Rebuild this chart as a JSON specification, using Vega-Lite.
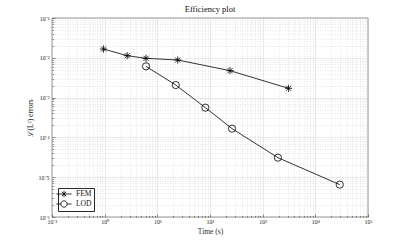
{
  "$schema": "https://vega.github.io/schema/vega-lite/v6.json",
  "width": 316,
  "height": 199,
  "autosize": {"type": "none"},
  "padding": {"left": 52, "top": 18, "right": 39, "bottom": 27},
  "background": "white",
  "config": {
    "font": "Liberation Serif",
    "view": {"stroke": "#262626", "strokeWidth": 0.6},
    "axis": {
      "labelFont": "Liberation Serif",
      "titleFont": "Liberation Serif",
      "labelColor": "#262626",
      "titleColor": "#262626",
      "titleFontWeight": "normal",
      "domain": false,
      "tickColor": "#262626",
      "tickWidth": 0.5,
      "gridWidth": 0.5
    }
  },
  "title": {"text": "Efficiency plot", "fontSize": 8.5, "fontWeight": "normal", "color": "#111111", "font": "Liberation Serif", "offset": 2},
  "data": {
    "values": [
      {"series": "FEM", "time": 0.95, "error": 0.0166},
      {"series": "FEM", "time": 2.68, "error": 0.0113},
      {"series": "FEM", "time": 6.1, "error": 0.0097},
      {"series": "FEM", "time": 24.4, "error": 0.0088},
      {"series": "FEM", "time": 240, "error": 0.00475},
      {"series": "FEM", "time": 3100, "error": 0.00171},
      {"series": "LOD", "time": 6.1, "error": 0.0061},
      {"series": "LOD", "time": 22.4, "error": 0.00207},
      {"series": "LOD", "time": 81.7, "error": 0.000559},
      {"series": "LOD", "time": 262, "error": 0.000166},
      {"series": "LOD", "time": 1946, "error": 0.000031},
      {"series": "LOD", "time": 29100, "error": 0.0000065}
    ]
  },
  "layer": [
    {
      "mark": {"type": "line", "color": "black", "strokeWidth": 0.8},
      "encoding": {
        "x": {
          "field": "time", "type": "quantitative",
          "scale": {"type": "log", "domain": [0.1, 100000], "nice": false},
          "axis": {
            "title": "Time (s)", "titleFontSize": 7.5, "labelFontSize": 6, "titlePadding": 2,
            "labelPadding": 4,
            "values": [0.1,0.2,0.3,0.4,0.5,0.6,0.7,0.8,0.9,1,2,3,4,5,6,7,8,9,10,20,30,40,50,60,70,80,90,100,200,300,400,500,600,700,800,900,1000,2000,3000,4000,5000,6000,7000,8000,9000,10000,20000,30000,40000,50000,60000,70000,80000,90000,100000],
            "labelExpr": "abs(log(datum.value)/LN10 - round(log(datum.value)/LN10)) < 0.001 ? '10' + replace(replace(replace(replace(replace(replace(replace(''+round(log(datum.value)/LN10),'-','⁻'),'0','⁰'),'1','¹'),'2','²'),'3','³'),'4','⁴'),'5','⁵') : ''",
            "labelOverlap": false,
            "labelFlush": false,
            "grid": true,
            "gridColor": {"condition": {"test": "abs(log(datum.value)/LN10 - round(log(datum.value)/LN10)) < 0.001", "value": "#d4d4d4"}, "value": "#cfcfcf"},
            "gridDash": {"condition": {"test": "abs(log(datum.value)/LN10 - round(log(datum.value)/LN10)) < 0.001", "value": []}, "value": [1, 1.5]},
            "tickSize": {"condition": {"test": "abs(log(datum.value)/LN10 - round(log(datum.value)/LN10)) < 0.001", "value": -3}, "value": -1.6}
          }
        },
        "y": {
          "field": "error", "type": "quantitative",
          "scale": {"type": "log", "domain": [0.000001, 0.1], "nice": false},
          "axis": {
            "title": "ℒ(L²) errors", "titleFontSize": 7.5, "labelFontSize": 6, "titlePadding": 4,
            "labelPadding": 6,
            "values": [1e-6,2e-6,3e-6,4e-6,5e-6,6e-6,7e-6,8e-6,9e-6,1e-5,2e-5,3e-5,4e-5,5e-5,6e-5,7e-5,8e-5,9e-5,1e-4,2e-4,3e-4,4e-4,5e-4,6e-4,7e-4,8e-4,9e-4,0.001,0.002,0.003,0.004,0.005,0.006,0.007,0.008,0.009,0.01,0.02,0.03,0.04,0.05,0.06,0.07,0.08,0.09,0.1],
            "labelExpr": "abs(log(datum.value)/LN10 - round(log(datum.value)/LN10)) < 0.001 ? '10' + replace(replace(replace(replace(replace(replace(replace(''+round(log(datum.value)/LN10),'-','⁻'),'0','⁰'),'1','¹'),'2','²'),'3','³'),'4','⁴'),'6','⁶') : ''",
            "labelOverlap": false,
            "labelFlush": false,
            "grid": true,
            "gridColor": {"condition": {"test": "abs(log(datum.value)/LN10 - round(log(datum.value)/LN10)) < 0.001", "value": "#d4d4d4"}, "value": "#cfcfcf"},
            "gridDash": {"condition": {"test": "abs(log(datum.value)/LN10 - round(log(datum.value)/LN10)) < 0.001", "value": []}, "value": [1, 1.5]},
            "tickSize": {"condition": {"test": "abs(log(datum.value)/LN10 - round(log(datum.value)/LN10)) < 0.001", "value": -3}, "value": -1.6}
          }
        },
        "detail": {"field": "series", "type": "nominal"},
        "order": {"field": "time", "type": "quantitative"}
      }
    },
    {
      "mark": {"type": "point", "filled": false, "color": "black", "strokeWidth": 0.8, "opacity": 1},
      "encoding": {
        "x": {"field": "time", "type": "quantitative"},
        "y": {"field": "error", "type": "quantitative"},
        "shape": {
          "field": "series", "type": "nominal",
          "scale": {"domain": ["FEM", "LOD"], "range": ["M-1,0L1,0M0,-1L0,1M-0.7,-0.7L0.7,0.7M-0.7,0.7L0.7,-0.7", "circle"]},
          "legend": null
        },
        "size": {"value": 52}
      }
    },
    {
      "mark": {"type": "point", "filled": false, "color": "black", "strokeWidth": 0.8, "opacity": 0},
      "encoding": {
        "x": {"field": "time", "type": "quantitative"},
        "y": {"field": "error", "type": "quantitative"},
        "shape": {
          "field": "series", "type": "nominal",
          "scale": {"domain": ["FEM", "LOD"], "range": ["M-2.4,0L2.4,0M0,-1L0,1M-0.7,-0.7L0.7,0.7M-0.7,0.7L0.7,-0.7", "M-2.4,0L-1,0M1,0L2.4,0M-1,0A1,1 0 1,0 1,0A1,1 0 1,0 -1,0"]},
          "legend": {
            "title": null,
            "orient": "bottom-left",
            "offset": 6,
            "symbolOpacity": 1,
            "symbolStrokeColor": "black",
            "symbolFillColor": "transparent",
            "symbolStrokeWidth": 0.8,
            "symbolSize": 40,
            "labelFontSize": 7.5,
            "labelFont": "Liberation Serif",
            "labelColor": "#111111",
            "labelOffset": 8,
            "rowPadding": 0,
            "padding": 2,
            "strokeColor": "#262626",
            "fillColor": "white"
          }
        }
      }
    }
  ],
  "resolve": {"scale": {"shape": "independent"}}
}
